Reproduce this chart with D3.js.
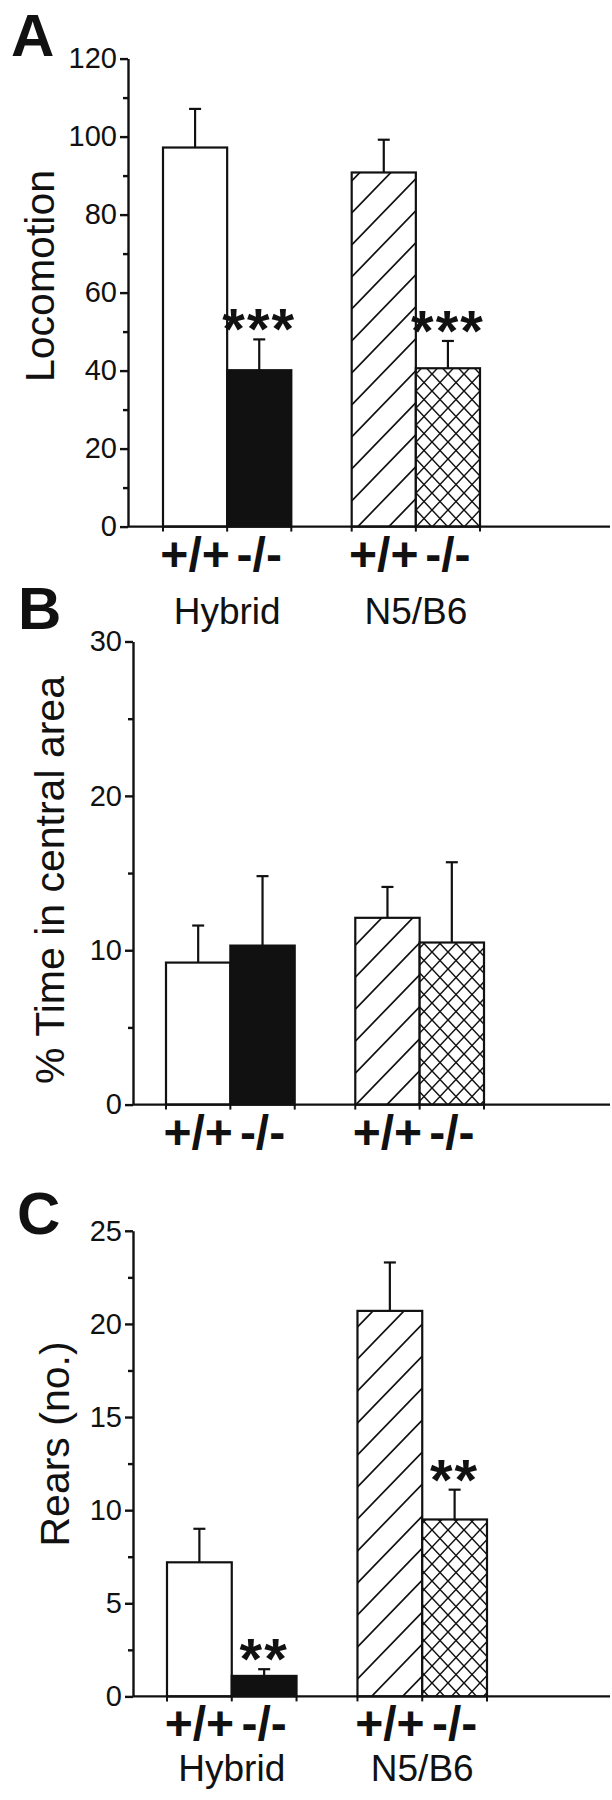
<!DOCTYPE html>
<html>
<head>
<meta charset="utf-8">
<script src="https://cdn.jsdelivr.net/npm/d3@7"></script>
<style>
  body { margin: 0; background: #fff; }
  text { font-family: "Liberation Sans", Arial, sans-serif; fill: #111; }
</style>
</head>
<body>
<div class="chart_container"></div>
<script>
const groups = ["Hybrid", "N5/B6"];
const genotypes = ["+/+", "-/-"];

// A: locomotion (order: Hybrid +/+, Hybrid -/-, N5/B6 +/+, N5/B6 -/-)
const locoMean = [97.2, 40.1, 90.8, 40.6];
const locoSem = [9.9, 7.9, 8.4, 7.0];
const locoStars = ["", "***", "", "***"];
const locoMajor = [0, 20, 40, 60, 80, 100, 120];
const locoMinor = [10, 30, 50, 70, 90, 110];

// B: % time in central area
const centerMean = [9.2, 10.3, 12.1, 10.5];
const centerSem = [2.4, 4.5, 2.0, 5.2];
const centerStars = ["", "", "", ""];
const centerMajor = [0, 10, 20, 30];
const centerMinor = [5, 15, 25];

// C: rears
const rearsMean = [7.2, 1.1, 20.7, 9.5];
const rearsSem = [1.8, 0.36, 2.6, 1.6];
const rearsStars = ["", "**", "", "**"];
const rearsMajor = [0, 5, 10, 15, 20, 25];
const rearsMinor = [2.5, 7.5, 12.5, 17.5, 22.5];

const fills = ["#fff", "#111", "url(#diag)", "url(#cross)"];

const panels = [
  { letter: "A", lx: 11, ly: 56, title: "Locomotion", tx: 40, ty: 276,
    mean: locoMean, sem: locoSem, stars: locoStars, major: locoMajor, minor: locoMinor, max: 120,
    axisX: 128, yTop: 58.6, y0: 526.6, left: 163, right: 480, end: 610, groupLabels: true, groupDy: 97 },
  { letter: "B", lx: 18, ly: 629, title: "% Time in central area", tx: 50, ty: 880,
    mean: centerMean, sem: centerSem, stars: centerStars, major: centerMajor, minor: centerMinor, max: 30,
    axisX: 133, yTop: 641.5, y0: 1104.6, left: 166, right: 484, end: 610, groupLabels: false },
  { letter: "C", lx: 17, ly: 1234, title: "Rears (no.)", tx: 55, ty: 1444,
    mean: rearsMean, sem: rearsSem, stars: rearsStars, major: rearsMajor, minor: rearsMinor, max: 25,
    axisX: 133, yTop: 1230.8, y0: 1696.4, left: 167, right: 487, end: 610, groupLabels: true, groupDy: 85 },
];

const container = document.querySelector('div.chart_container');
container.innerHTML = `<svg id="svgCont" width="612" height="1800"></svg>`;
const svg = d3.select(container).select('#svgCont');

// hatch patterns
const defs = svg.append('defs');
defs.append('pattern').attr('id', 'diag')
  .attr('patternUnits', 'userSpaceOnUse').attr('width', 31).attr('height', 32)
  .call(p => p.append('rect').attr('width', 31).attr('height', 32).attr('fill', '#fff'))
  .append('path')
  .attr('d', 'M-5,5.2 L5,-5.2 M0,32 L31,0 M26,37.2 L36,26.8')
  .attr('stroke', '#111').attr('stroke-width', 1.7);
defs.append('pattern').attr('id', 'cross')
  .attr('patternUnits', 'userSpaceOnUse').attr('width', 16).attr('height', 17)
  .call(p => p.append('rect').attr('width', 16).attr('height', 17).attr('fill', '#fff'))
  .append('path')
  .attr('d', 'M-4,4.25 L4,-4.25 M0,17 L16,0 M12,21.25 L20,12.75 M-4,12.75 L4,21.25 M0,0 L16,17 M12,-4.25 L20,4.25')
  .attr('stroke', '#111').attr('stroke-width', 1.5);

function drawPanel(p) {
  const g = svg.append('g');
  const y = d3.scaleLinear().domain([0, p.max]).range([p.y0, p.yTop]);
  const xg = d3.scaleBand().domain(groups).range([p.left, p.right]).paddingInner(0.32);
  const xs = d3.scaleBand().domain(genotypes).range([0, xg.bandwidth()]);

  const rows = p.mean.map((m, i) => ({
    group: groups[Math.floor(i / 2)], geno: genotypes[i % 2],
    mean: m, sem: p.sem[i], star: p.stars[i], fill: fills[i]
  }));
  const bx = d => xg(d.group) + xs(d.geno);

  // bars
  g.selectAll('rect.bar').data(rows).enter().append('rect')
    .attr('class', 'bar')
    .attr('x', bx)
    .attr('y', d => y(d.mean))
    .attr('width', xs.bandwidth())
    .attr('height', d => y(0) - y(d.mean))
    .attr('fill', d => d.fill)
    .attr('stroke', '#111')
    .attr('stroke-width', 2.2);

  // error bars (upper only)
  const err = g.selectAll('g.err').data(rows).enter().append('g')
    .attr('transform', d => `translate(${bx(d) + xs.bandwidth() / 2},0)`);
  err.append('line')
    .attr('y1', d => y(d.mean)).attr('y2', d => y(d.mean + d.sem))
    .attr('stroke', '#111').attr('stroke-width', 2.2);
  err.append('line')
    .attr('x1', -6).attr('x2', 6)
    .attr('y1', d => y(d.mean + d.sem)).attr('y2', d => y(d.mean + d.sem))
    .attr('stroke', '#111').attr('stroke-width', 2.2);
  err.append('text')
    .attr('text-anchor', 'middle')
    .attr('y', d => y(d.mean + d.sem) + 10)
    .attr('font-size', 58)
    .attr('font-weight', 'bold')
    .attr('letter-spacing', 2)
    .text(d => d.star);

  // y axis
  const yAxis = g.append('g').attr('transform', `translate(${p.axisX},0)`)
    .call(d3.axisLeft(y).tickValues(p.major).tickSize(8).tickSizeOuter(0).tickPadding(3).tickFormat(d3.format('d')));
  g.append('g').attr('transform', `translate(${p.axisX},0)`)
    .call(d3.axisLeft(y).tickValues(p.minor).tickSize(5).tickSizeOuter(0).tickFormat(''))
    .call(a => a.select('.domain').remove());
  g.selectAll('.tick line, .domain').attr('stroke', '#111').attr('stroke-width', 2.4);
  yAxis.selectAll('.tick text')
    .attr('font-size', 29).attr('font-family', '"Liberation Sans", Arial, sans-serif').attr('fill', '#111');

  // baseline and bar-edge ticks
  g.append('line')
    .attr('x1', p.axisX).attr('x2', p.end).attr('y1', y(0)).attr('y2', y(0))
    .attr('stroke', '#111').attr('stroke-width', 2.4);
  const edges = [];
  groups.forEach(gr => {
    edges.push(xg(gr), xg(gr) + xs.bandwidth(), xg(gr) + xg.bandwidth());
  });
  g.selectAll('line.xtick').data(edges).enter().append('line')
    .attr('x1', d => d).attr('x2', d => d)
    .attr('y1', y(0)).attr('y2', y(0) + 5)
    .attr('stroke', '#111').attr('stroke-width', 2);

  // genotype labels
  g.selectAll('text.geno').data(rows).enter().append('text')
    .attr('x', d => bx(d) + xs.bandwidth() / 2)
    .attr('y', y(0) + 44)
    .attr('text-anchor', 'middle')
    .attr('font-size', 48)
    .attr('font-weight', 'bold')
    .text(d => d.geno);

  if (p.groupLabels) {
    g.selectAll('text.grp').data(groups).enter().append('text')
      .attr('x', d => xg(d) + xg.bandwidth() / 2)
      .attr('y', y(0) + p.groupDy)
      .attr('text-anchor', 'middle')
      .attr('font-size', 37)
      .text(d => d);
  }

  // y title
  g.append('text')
    .attr('transform', `translate(${p.tx},${p.ty}) rotate(-90)`)
    .attr('dy', '0.35em')
    .attr('text-anchor', 'middle')
    .attr('font-size', 41)
    .text(p.title);

  // panel letter
  g.append('text')
    .attr('x', p.lx).attr('y', p.ly)
    .attr('font-size', 60).attr('font-weight', 'bold')
    .text(p.letter);
}

panels.forEach(drawPanel);
</script>
</body>
</html>
